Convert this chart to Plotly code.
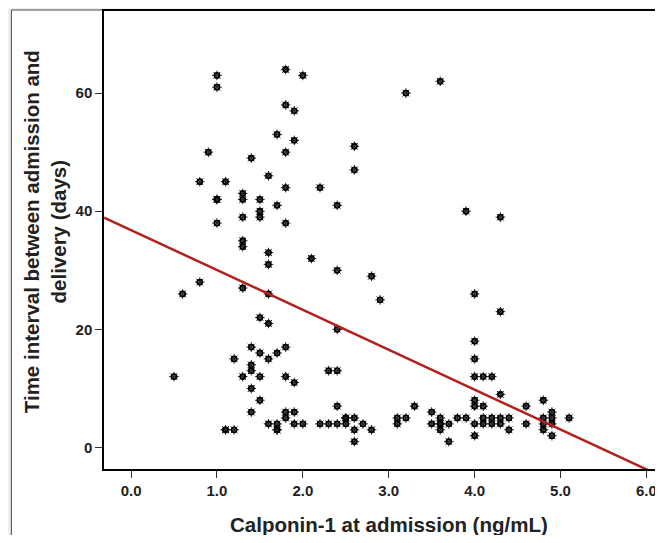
import plotly.graph_objects as go

# Calponin-1 at admission (ng/mL)
calponin = [
    1.0, 1.0, 1.8, 1.8, 1.9, 1.7, 1.9, 0.9, 1.8, 1.4, 1.6, 0.8, 1.1, 1.8, 1.0, 1.0,
    1.3, 1.3, 1.5, 1.7, 1.5, 1.5, 1.3, 1.0, 1.8, 1.3, 1.3, 1.6, 1.6, 0.8, 0.6, 1.3,
    1.6, 1.5, 1.6,
    2.0, 3.6, 3.2, 2.6, 2.6, 2.2, 2.4, 3.9, 4.3,
    2.1, 2.4, 2.8, 2.9, 2.4, 2.3, 2.4, 2.4, 3.3,
    4.0, 4.0, 4.0, 4.0, 4.1, 4.2, 4.3, 4.3, 4.0, 4.0, 4.1,
    1.4, 1.8, 1.5, 1.7, 1.2, 1.6, 1.4, 1.4, 1.3, 1.5, 1.8, 0.5, 1.9, 1.4, 1.5, 1.4,
    1.8, 1.9, 1.8, 1.6, 1.7, 1.9, 1.7, 1.7, 1.1, 1.1, 1.2,
    2.0, 2.2, 2.3, 2.4, 2.5, 2.5, 2.5, 2.6, 2.6, 2.7, 2.8, 2.6, 3.1, 3.1, 3.2, 3.5,
    3.5, 3.6, 3.6, 3.6, 3.6, 3.7, 3.7, 3.8, 3.9, 4.0, 4.0, 4.1, 4.1, 4.2, 4.2, 4.3,
    4.3, 4.4, 4.4, 4.6, 4.6, 4.8, 4.8, 4.8, 4.8, 4.9, 4.9, 4.9, 4.9, 5.1,
]
# Time interval between admission and delivery (days)
days = [
    63, 61, 64, 58, 57, 53, 52, 50, 50, 49, 46, 45, 45, 44, 42, 42,
    43, 42, 42, 41, 40, 39, 39, 38, 38, 35, 34, 33, 31, 28, 26, 27,
    26, 22, 21,
    63, 62, 60, 51, 47, 44, 41, 40, 39,
    32, 30, 29, 25, 20, 13, 13, 7, 7,
    26, 18, 15, 12, 12, 12, 23, 9, 8, 7, 7,
    17, 17, 16, 16, 15, 15, 14, 13, 12, 12, 12, 12, 11, 10, 8, 6,
    6, 6, 5, 4, 4, 4, 3, 3, 3, 3, 3,
    4, 4, 4, 4, 4, 5, 5, 5, 3, 4, 3, 1, 5, 4, 5, 6,
    4, 5, 4, 4, 3, 4, 1, 5, 5, 4, 2, 5, 4, 5, 4, 5,
    4, 5, 3, 7, 4, 8, 5, 4, 3, 6, 5, 4, 2, 5,
]

# Fitted regression line
fit_intercept = 36.8
fit_slope = -6.75

x_range = [-0.315, 6.17]
y_range = [-3.64, 73.9]
x_ticks = [0, 1, 2, 3, 4, 5, 6]
x_ticklabels = ["0.0", "1.0", "2.0", "3.0", "4.0", "5.0", "6.0"]
y_ticks = [0, 20, 40, 60]

fit_x = [x_range[0], x_range[1]]
fit_y = [fit_intercept + fit_slope * v for v in fit_x]

FONT = "Liberation Sans, Arial, sans-serif"

fig = go.Figure()
fig.add_trace(go.Scatter(
    x=calponin, y=days, mode="markers",
    marker=dict(symbol="asterisk-open", size=8, color="#222",
                line=dict(color="#222", width=1)),
    hoverinfo="skip", showlegend=False,
))
fig.add_trace(go.Scatter(
    x=calponin, y=days, mode="markers",
    marker=dict(symbol="circle-open", size=5, color="black",
                line=dict(color="black", width=1.8)),
    showlegend=False,
))
fig.add_trace(go.Scatter(
    x=fit_x, y=fit_y, mode="lines",
    line=dict(color="#b3201e", width=2.5),
    hoverinfo="skip", showlegend=False,
))

OFF = 8  # page body margin
W, H = 663 - OFF, 543 - 2 * OFF
ml, mt, mr = 104 - OFF, 11 - OFF, 0
mb = H - (469 - OFF)
pw, ph = W - ml - mr, H - mt - mb

def px_x(p):  # page pixel -> paper
    return (p - OFF - ml) / pw

def px_y(p):
    return (H - mb - (p - OFF)) / ph

fig.update_layout(
    width=W, height=H,
    margin=dict(l=ml, r=mr, t=mt, b=mb, pad=0),
    paper_bgcolor="#f0f0f0",
    plot_bgcolor="white",
    font=dict(family=FONT, color="black"),
    xaxis=dict(
        range=x_range, tickmode="array", tickvals=x_ticks, ticktext=x_ticklabels,
        showgrid=False, zeroline=False, showline=True, linecolor="black", linewidth=1.5,
        mirror=True, ticks="outside", ticklen=7, tickwidth=1.2, tickcolor="#333",
        tickfont=dict(family=FONT, size=15, color="#222", weight="bold"),
    ),
    yaxis=dict(
        range=y_range, tickmode="array", tickvals=y_ticks,
        showgrid=False, zeroline=False, showline=True, linecolor="black", linewidth=1.5,
        mirror=True, ticks="outside", ticklen=7, tickwidth=1.2, tickcolor="#333",
        tickfont=dict(family=FONT, size=15, color="#222", weight="bold"),
    ),
    shapes=[dict(
        type="rect", xref="paper", yref="paper", layer="below",
        x0=px_x(11), x1=px_x(720), y0=px_y(620), y1=px_y(10),
        fillcolor="white", line=dict(color="#444", width=1),
    )],
    annotations=[
        dict(
            text="Calponin-1 at admission (ng/mL)", xref="paper", yref="paper",
            x=px_x(390), y=px_y(524), showarrow=False,
            font=dict(family=FONT, size=20.5, color="#222", weight="bold"),
            xanchor="center", yanchor="middle",
        ),
        dict(
            text="Time interval between admission and<br>delivery (days)",
            xref="paper", yref="paper", x=px_x(45), y=px_y(232), showarrow=False,
            textangle=-90, font=dict(family=FONT, size=20.5, color="#222", weight="bold"),
            xanchor="center", yanchor="middle",
        ),
    ],
)

fig.write_html("out.html")
